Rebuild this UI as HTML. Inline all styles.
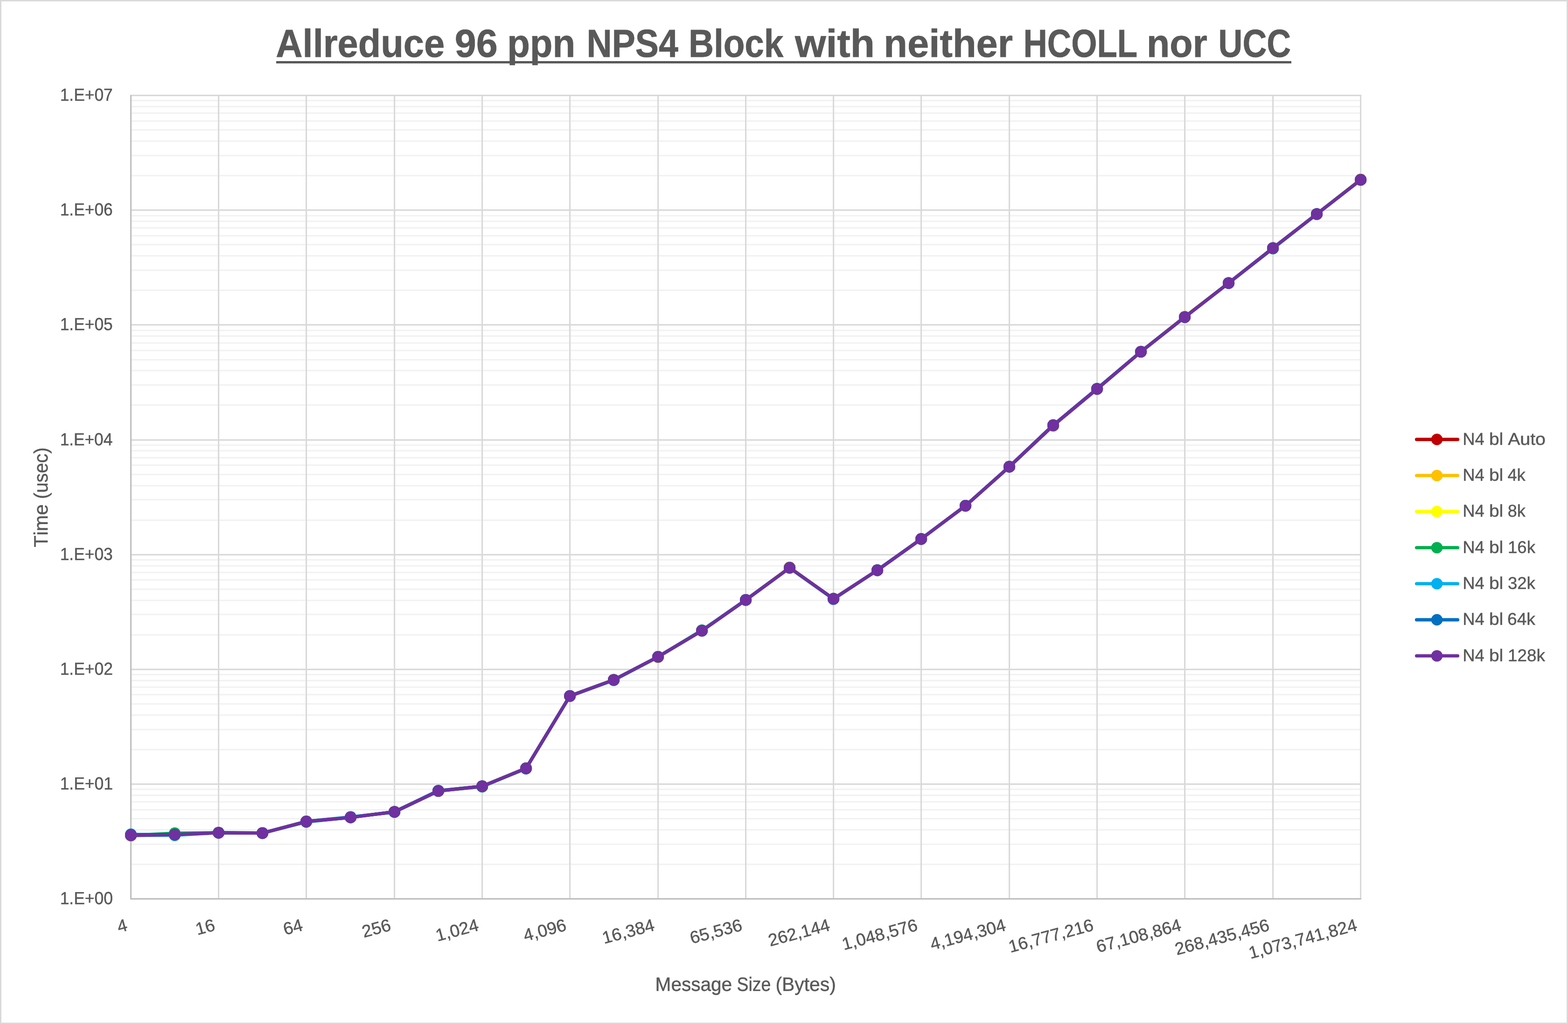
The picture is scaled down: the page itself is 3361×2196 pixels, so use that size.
<!DOCTYPE html>
<html lang="en"><head><meta charset="utf-8">
<title>Allreduce 96 ppn NPS4 Block with neither HCOLL nor UCC</title>
<style>
html,body{margin:0;padding:0;background:#fff;width:3361px;height:2196px;overflow:hidden}
svg{display:block}
text{font-family:"Liberation Sans", sans-serif;fill:#595959;font-kerning:none;text-rendering:geometricPrecision;stroke:#595959;stroke-width:0.5px}
.t{font-weight:700;stroke-width:0.8px}
</style></head><body>
<svg width="3361" height="2196" viewBox="0 0 3361 2196" role="img" aria-label="Allreduce 96 ppn NPS4 Block with neither HCOLL nor UCC">
<rect x="0" y="0" width="3361" height="2196" fill="#fff"/>
<rect x="1.5" y="1.5" width="3358" height="2193" fill="none" stroke="#d9d9d9" stroke-width="3"/>
<g fill="none" stroke-width="3.12" shape-rendering="geometricPrecision">
<path stroke="#f2f2f2" d="M280.55 1853.62H2916.55M280.55 1810.62H2916.55M280.55 1779.62H2916.55M280.55 1755.62H2916.55M280.55 1736.62H2916.55M280.55 1719.62H2916.55M280.55 1705.62H2916.55M280.55 1692.62H2916.55M280.55 1607.62H2916.55M280.55 1564.62H2916.55M280.55 1533.62H2916.55M280.55 1509.62H2916.55M280.55 1489.62H2916.55M280.55 1473.62H2916.55M280.55 1459.62H2916.55M280.55 1446.62H2916.55M280.55 1361.62H2916.55M280.55 1317.62H2916.55M280.55 1287.62H2916.55M280.55 1263.62H2916.55M280.55 1243.62H2916.55M280.55 1227.62H2916.55M280.55 1213.62H2916.55M280.55 1200.62H2916.55M280.55 1115.62H2916.55M280.55 1071.62H2916.55M280.55 1041.62H2916.55M280.55 1017.62H2916.55M280.55 997.62H2916.55M280.55 981.62H2916.55M280.55 966.62H2916.55M280.55 954.62H2916.55M280.55 868.62H2916.55M280.55 825.62H2916.55M280.55 794.62H2916.55M280.55 771.62H2916.55M280.55 751.62H2916.55M280.55 735.62H2916.55M280.55 720.62H2916.55M280.55 708.62H2916.55M280.55 622.62H2916.55M280.55 579.62H2916.55M280.55 548.62H2916.55M280.55 524.62H2916.55M280.55 505.62H2916.55M280.55 488.62H2916.55M280.55 474.62H2916.55M280.55 462.62H2916.55M280.55 376.62H2916.55M280.55 333.62H2916.55M280.55 302.62H2916.55M280.55 278.62H2916.55M280.55 259.62H2916.55M280.55 242.62H2916.55M280.55 228.62H2916.55M280.55 215.62H2916.55"/>
<path stroke="#d9d9d9" d="M280.55 1681.62H2916.55M280.55 1435.62H2916.55M280.55 1189.62H2916.55M280.55 943.62H2916.55M280.55 696.62H2916.55M280.55 450.62H2916.55M280.55 204.62H2916.55M468.55 203.06V1927.62M656.55 203.06V1927.62M845.55 203.06V1927.62M1033.55 203.06V1927.62M1221.55 203.06V1927.62M1410.55 203.06V1927.62M1598.55 203.06V1927.62M1786.55 203.06V1927.62M1974.55 203.06V1927.62M2163.55 203.06V1927.62M2351.55 203.06V1927.62M2539.55 203.06V1927.62M2728.55 203.06V1927.62M2916.55 203.06V1927.62"/>
<path stroke="#bfbfbf" d="M280.55 203.66V1929.18M278.99 1927.62H2917.81"/>
</g>
<g fill="#c00000" stroke="#c00000">
<polyline fill="none" stroke-width="7" stroke-linejoin="round" stroke-linecap="round" points="280.55,1791.4 374.55,1789.8 468.55,1785.8 562.55,1786.6 656.55,1761.6 751.55,1752.9 845.55,1741 939.55,1696.3 1033.55,1686.2 1127.55,1647.6 1221.55,1492.6 1315.55,1458 1410.55,1408.6 1504.55,1352.6 1598.55,1286.7 1692.55,1217.7 1786.55,1284.2 1880.55,1222.9 1974.55,1155.8 2069.55,1084.6 2163.55,1000.9 2257.55,912.9 2351.55,834.2 2445.55,754.3 2539.55,680 2633.55,607 2728.55,532 2822.55,459 2916.55,385.7"/>
<g stroke="none"><circle cx="280.55" cy="1791.4" r="12.6"/><circle cx="374.55" cy="1789.8" r="12.6"/><circle cx="468.55" cy="1785.8" r="12.6"/><circle cx="562.55" cy="1786.6" r="12.6"/><circle cx="656.55" cy="1761.6" r="12.6"/><circle cx="751.55" cy="1752.9" r="12.6"/><circle cx="845.55" cy="1741" r="12.6"/><circle cx="939.55" cy="1696.3" r="12.6"/><circle cx="1033.55" cy="1686.2" r="12.6"/><circle cx="1127.55" cy="1647.6" r="12.6"/><circle cx="1221.55" cy="1492.6" r="12.6"/><circle cx="1315.55" cy="1458" r="12.6"/><circle cx="1410.55" cy="1408.6" r="12.6"/><circle cx="1504.55" cy="1352.6" r="12.6"/><circle cx="1598.55" cy="1286.7" r="12.6"/><circle cx="1692.55" cy="1217.7" r="12.6"/><circle cx="1786.55" cy="1284.2" r="12.6"/><circle cx="1880.55" cy="1222.9" r="12.6"/><circle cx="1974.55" cy="1155.8" r="12.6"/><circle cx="2069.55" cy="1084.6" r="12.6"/><circle cx="2163.55" cy="1000.9" r="12.6"/><circle cx="2257.55" cy="912.9" r="12.6"/><circle cx="2351.55" cy="834.2" r="12.6"/><circle cx="2445.55" cy="754.3" r="12.6"/><circle cx="2539.55" cy="680" r="12.6"/><circle cx="2633.55" cy="607" r="12.6"/><circle cx="2728.55" cy="532" r="12.6"/><circle cx="2822.55" cy="459" r="12.6"/><circle cx="2916.55" cy="385.7" r="12.6"/></g>
</g>
<g fill="#ffc000" stroke="#ffc000">
<polyline fill="none" stroke-width="7" stroke-linejoin="round" stroke-linecap="round" points="280.55,1792.4 374.55,1789.8 468.55,1785.8 562.55,1786.6 656.55,1761.6 751.55,1752.9 845.55,1741 939.55,1696.3 1033.55,1686.2 1127.55,1647.6 1221.55,1492.6 1315.55,1458 1410.55,1408.6 1504.55,1352.6 1598.55,1286.7 1692.55,1216.7 1786.55,1284.2 1880.55,1222.9 1974.55,1155.8 2069.55,1084.6 2163.55,1000.9 2257.55,911.9 2351.55,834.2 2445.55,754.3 2539.55,679 2633.55,607 2728.55,532 2822.55,459 2916.55,384.7"/>
<g stroke="none"><circle cx="280.55" cy="1792.4" r="12.6"/><circle cx="374.55" cy="1789.8" r="12.6"/><circle cx="468.55" cy="1785.8" r="12.6"/><circle cx="562.55" cy="1786.6" r="12.6"/><circle cx="656.55" cy="1761.6" r="12.6"/><circle cx="751.55" cy="1752.9" r="12.6"/><circle cx="845.55" cy="1741" r="12.6"/><circle cx="939.55" cy="1696.3" r="12.6"/><circle cx="1033.55" cy="1686.2" r="12.6"/><circle cx="1127.55" cy="1647.6" r="12.6"/><circle cx="1221.55" cy="1492.6" r="12.6"/><circle cx="1315.55" cy="1458" r="12.6"/><circle cx="1410.55" cy="1408.6" r="12.6"/><circle cx="1504.55" cy="1352.6" r="12.6"/><circle cx="1598.55" cy="1286.7" r="12.6"/><circle cx="1692.55" cy="1216.7" r="12.6"/><circle cx="1786.55" cy="1284.2" r="12.6"/><circle cx="1880.55" cy="1222.9" r="12.6"/><circle cx="1974.55" cy="1155.8" r="12.6"/><circle cx="2069.55" cy="1084.6" r="12.6"/><circle cx="2163.55" cy="1000.9" r="12.6"/><circle cx="2257.55" cy="911.9" r="12.6"/><circle cx="2351.55" cy="834.2" r="12.6"/><circle cx="2445.55" cy="754.3" r="12.6"/><circle cx="2539.55" cy="679" r="12.6"/><circle cx="2633.55" cy="607" r="12.6"/><circle cx="2728.55" cy="532" r="12.6"/><circle cx="2822.55" cy="459" r="12.6"/><circle cx="2916.55" cy="384.7" r="12.6"/></g>
</g>
<g fill="#ffff00" stroke="#ffff00">
<polyline fill="none" stroke-width="7" stroke-linejoin="round" stroke-linecap="round" points="280.55,1791.4 374.55,1789.8 468.55,1785.8 562.55,1786.6 656.55,1761.6 751.55,1752.9 845.55,1741 939.55,1696.3 1033.55,1686.2 1127.55,1647.6 1221.55,1492.6 1315.55,1458 1410.55,1409.6 1504.55,1352.6 1598.55,1286.7 1692.55,1217.7 1786.55,1284.2 1880.55,1222.9 1974.55,1155.8 2069.55,1084.6 2163.55,1000.9 2257.55,911.9 2351.55,834.2 2445.55,754.3 2539.55,680 2633.55,607 2728.55,532 2822.55,459 2916.55,385.7"/>
<g stroke="none"><circle cx="280.55" cy="1791.4" r="12.6"/><circle cx="374.55" cy="1789.8" r="12.6"/><circle cx="468.55" cy="1785.8" r="12.6"/><circle cx="562.55" cy="1786.6" r="12.6"/><circle cx="656.55" cy="1761.6" r="12.6"/><circle cx="751.55" cy="1752.9" r="12.6"/><circle cx="845.55" cy="1741" r="12.6"/><circle cx="939.55" cy="1696.3" r="12.6"/><circle cx="1033.55" cy="1686.2" r="12.6"/><circle cx="1127.55" cy="1647.6" r="12.6"/><circle cx="1221.55" cy="1492.6" r="12.6"/><circle cx="1315.55" cy="1458" r="12.6"/><circle cx="1410.55" cy="1409.6" r="12.6"/><circle cx="1504.55" cy="1352.6" r="12.6"/><circle cx="1598.55" cy="1286.7" r="12.6"/><circle cx="1692.55" cy="1217.7" r="12.6"/><circle cx="1786.55" cy="1284.2" r="12.6"/><circle cx="1880.55" cy="1222.9" r="12.6"/><circle cx="1974.55" cy="1155.8" r="12.6"/><circle cx="2069.55" cy="1084.6" r="12.6"/><circle cx="2163.55" cy="1000.9" r="12.6"/><circle cx="2257.55" cy="911.9" r="12.6"/><circle cx="2351.55" cy="834.2" r="12.6"/><circle cx="2445.55" cy="754.3" r="12.6"/><circle cx="2539.55" cy="680" r="12.6"/><circle cx="2633.55" cy="607" r="12.6"/><circle cx="2728.55" cy="532" r="12.6"/><circle cx="2822.55" cy="459" r="12.6"/><circle cx="2916.55" cy="385.7" r="12.6"/></g>
</g>
<g fill="#00b050" stroke="#00b050">
<polyline fill="none" stroke-width="7" stroke-linejoin="round" stroke-linecap="round" points="280.55,1791.4 374.55,1786.8 468.55,1785.8 562.55,1786.6 656.55,1761.6 751.55,1752.9 845.55,1741 939.55,1696.3 1033.55,1687 1127.55,1647.6 1221.55,1492.6 1315.55,1458 1410.55,1408.6 1504.55,1351.6 1598.55,1286.7 1692.55,1217.7 1786.55,1284.2 1880.55,1222.9 1974.55,1155.8 2069.55,1084.6 2163.55,1000.9 2257.55,911.9 2351.55,834.2 2445.55,754.3 2539.55,680 2633.55,607 2728.55,533 2822.55,459 2916.55,385.7"/>
<g stroke="none"><circle cx="280.55" cy="1791.4" r="12.6"/><circle cx="374.55" cy="1786.8" r="12.6"/><circle cx="468.55" cy="1785.8" r="12.6"/><circle cx="562.55" cy="1786.6" r="12.6"/><circle cx="656.55" cy="1761.6" r="12.6"/><circle cx="751.55" cy="1752.9" r="12.6"/><circle cx="845.55" cy="1741" r="12.6"/><circle cx="939.55" cy="1696.3" r="12.6"/><circle cx="1033.55" cy="1687" r="12.6"/><circle cx="1127.55" cy="1647.6" r="12.6"/><circle cx="1221.55" cy="1492.6" r="12.6"/><circle cx="1315.55" cy="1458" r="12.6"/><circle cx="1410.55" cy="1408.6" r="12.6"/><circle cx="1504.55" cy="1351.6" r="12.6"/><circle cx="1598.55" cy="1286.7" r="12.6"/><circle cx="1692.55" cy="1217.7" r="12.6"/><circle cx="1786.55" cy="1284.2" r="12.6"/><circle cx="1880.55" cy="1222.9" r="12.6"/><circle cx="1974.55" cy="1155.8" r="12.6"/><circle cx="2069.55" cy="1084.6" r="12.6"/><circle cx="2163.55" cy="1000.9" r="12.6"/><circle cx="2257.55" cy="911.9" r="12.6"/><circle cx="2351.55" cy="834.2" r="12.6"/><circle cx="2445.55" cy="754.3" r="12.6"/><circle cx="2539.55" cy="680" r="12.6"/><circle cx="2633.55" cy="607" r="12.6"/><circle cx="2728.55" cy="533" r="12.6"/><circle cx="2822.55" cy="459" r="12.6"/><circle cx="2916.55" cy="385.7" r="12.6"/></g>
</g>
<g fill="#00b0f0" stroke="#00b0f0">
<polyline fill="none" stroke-width="7" stroke-linejoin="round" stroke-linecap="round" points="280.55,1791.4 374.55,1791.3 468.55,1785.8 562.55,1786.6 656.55,1761.6 751.55,1751.9 845.55,1741.7 939.55,1696.3 1033.55,1686.2 1127.55,1647.6 1221.55,1492.6 1315.55,1458.8 1410.55,1408.6 1504.55,1352.6 1598.55,1286.7 1692.55,1217.7 1786.55,1284.9 1880.55,1222.9 1974.55,1155.8 2069.55,1084.6 2163.55,1000.9 2257.55,911.9 2351.55,834.2 2445.55,754.3 2539.55,680 2633.55,607 2728.55,532 2822.55,459 2916.55,385.7"/>
<g stroke="none"><circle cx="280.55" cy="1791.4" r="12.6"/><circle cx="374.55" cy="1791.3" r="12.6"/><circle cx="468.55" cy="1785.8" r="12.6"/><circle cx="562.55" cy="1786.6" r="12.6"/><circle cx="656.55" cy="1761.6" r="12.6"/><circle cx="751.55" cy="1751.9" r="12.6"/><circle cx="845.55" cy="1741.7" r="12.6"/><circle cx="939.55" cy="1696.3" r="12.6"/><circle cx="1033.55" cy="1686.2" r="12.6"/><circle cx="1127.55" cy="1647.6" r="12.6"/><circle cx="1221.55" cy="1492.6" r="12.6"/><circle cx="1315.55" cy="1458.8" r="12.6"/><circle cx="1410.55" cy="1408.6" r="12.6"/><circle cx="1504.55" cy="1352.6" r="12.6"/><circle cx="1598.55" cy="1286.7" r="12.6"/><circle cx="1692.55" cy="1217.7" r="12.6"/><circle cx="1786.55" cy="1284.9" r="12.6"/><circle cx="1880.55" cy="1222.9" r="12.6"/><circle cx="1974.55" cy="1155.8" r="12.6"/><circle cx="2069.55" cy="1084.6" r="12.6"/><circle cx="2163.55" cy="1000.9" r="12.6"/><circle cx="2257.55" cy="911.9" r="12.6"/><circle cx="2351.55" cy="834.2" r="12.6"/><circle cx="2445.55" cy="754.3" r="12.6"/><circle cx="2539.55" cy="680" r="12.6"/><circle cx="2633.55" cy="607" r="12.6"/><circle cx="2728.55" cy="532" r="12.6"/><circle cx="2822.55" cy="459" r="12.6"/><circle cx="2916.55" cy="385.7" r="12.6"/></g>
</g>
<g fill="#0070c0" stroke="#0070c0">
<polyline fill="none" stroke-width="7" stroke-linejoin="round" stroke-linecap="round" points="280.55,1789.4 374.55,1789.8 468.55,1785.8 562.55,1786.6 656.55,1762.6 751.55,1752.9 845.55,1741 939.55,1695.5 1033.55,1686.2 1127.55,1648.3 1221.55,1492.6 1315.55,1458 1410.55,1408.6 1504.55,1352.6 1598.55,1286.7 1692.55,1217.7 1786.55,1284.2 1880.55,1222.9 1974.55,1155.8 2069.55,1084.6 2163.55,1000.9 2257.55,911.9 2351.55,833.5 2445.55,754.3 2539.55,680 2633.55,607 2728.55,532 2822.55,459 2916.55,385.7"/>
<g stroke="none"><circle cx="280.55" cy="1789.4" r="12.6"/><circle cx="374.55" cy="1789.8" r="12.6"/><circle cx="468.55" cy="1785.8" r="12.6"/><circle cx="562.55" cy="1786.6" r="12.6"/><circle cx="656.55" cy="1762.6" r="12.6"/><circle cx="751.55" cy="1752.9" r="12.6"/><circle cx="845.55" cy="1741" r="12.6"/><circle cx="939.55" cy="1695.5" r="12.6"/><circle cx="1033.55" cy="1686.2" r="12.6"/><circle cx="1127.55" cy="1648.3" r="12.6"/><circle cx="1221.55" cy="1492.6" r="12.6"/><circle cx="1315.55" cy="1458" r="12.6"/><circle cx="1410.55" cy="1408.6" r="12.6"/><circle cx="1504.55" cy="1352.6" r="12.6"/><circle cx="1598.55" cy="1286.7" r="12.6"/><circle cx="1692.55" cy="1217.7" r="12.6"/><circle cx="1786.55" cy="1284.2" r="12.6"/><circle cx="1880.55" cy="1222.9" r="12.6"/><circle cx="1974.55" cy="1155.8" r="12.6"/><circle cx="2069.55" cy="1084.6" r="12.6"/><circle cx="2163.55" cy="1000.9" r="12.6"/><circle cx="2257.55" cy="911.9" r="12.6"/><circle cx="2351.55" cy="833.5" r="12.6"/><circle cx="2445.55" cy="754.3" r="12.6"/><circle cx="2539.55" cy="680" r="12.6"/><circle cx="2633.55" cy="607" r="12.6"/><circle cx="2728.55" cy="532" r="12.6"/><circle cx="2822.55" cy="459" r="12.6"/><circle cx="2916.55" cy="385.7" r="12.6"/></g>
</g>
<g fill="#7030a0" stroke="#7030a0">
<polyline fill="none" stroke-width="7" stroke-linejoin="round" stroke-linecap="round" points="280.55,1791.4 374.55,1789.8 468.55,1785.8 562.55,1786.6 656.55,1761.6 751.55,1752.9 845.55,1741 939.55,1696.3 1033.55,1686.2 1127.55,1647.6 1221.55,1492.6 1315.55,1458 1410.55,1408.6 1504.55,1352.6 1598.55,1286.7 1692.55,1217.7 1786.55,1284.2 1880.55,1222.9 1974.55,1155.8 2069.55,1084.6 2163.55,1000.9 2257.55,911.9 2351.55,834.2 2445.55,754.3 2539.55,680 2633.55,607 2728.55,532 2822.55,459 2916.55,385.7"/>
<g stroke="none"><circle cx="280.55" cy="1791.4" r="12.6"/><circle cx="374.55" cy="1789.8" r="12.6"/><circle cx="468.55" cy="1785.8" r="12.6"/><circle cx="562.55" cy="1786.6" r="12.6"/><circle cx="656.55" cy="1761.6" r="12.6"/><circle cx="751.55" cy="1752.9" r="12.6"/><circle cx="845.55" cy="1741" r="12.6"/><circle cx="939.55" cy="1696.3" r="12.6"/><circle cx="1033.55" cy="1686.2" r="12.6"/><circle cx="1127.55" cy="1647.6" r="12.6"/><circle cx="1221.55" cy="1492.6" r="12.6"/><circle cx="1315.55" cy="1458" r="12.6"/><circle cx="1410.55" cy="1408.6" r="12.6"/><circle cx="1504.55" cy="1352.6" r="12.6"/><circle cx="1598.55" cy="1286.7" r="12.6"/><circle cx="1692.55" cy="1217.7" r="12.6"/><circle cx="1786.55" cy="1284.2" r="12.6"/><circle cx="1880.55" cy="1222.9" r="12.6"/><circle cx="1974.55" cy="1155.8" r="12.6"/><circle cx="2069.55" cy="1084.6" r="12.6"/><circle cx="2163.55" cy="1000.9" r="12.6"/><circle cx="2257.55" cy="911.9" r="12.6"/><circle cx="2351.55" cy="834.2" r="12.6"/><circle cx="2445.55" cy="754.3" r="12.6"/><circle cx="2539.55" cy="680" r="12.6"/><circle cx="2633.55" cy="607" r="12.6"/><circle cx="2728.55" cy="532" r="12.6"/><circle cx="2822.55" cy="459" r="12.6"/><circle cx="2916.55" cy="385.7" r="12.6"/></g>
</g>
<text class="t" font-size="84" y="122"><tspan x="591.22" textLength="361.89" lengthAdjust="spacingAndGlyphs">Allreduce</tspan> <tspan x="974.73" textLength="92.06" lengthAdjust="spacingAndGlyphs">96</tspan> <tspan x="1087.15" textLength="145.99" lengthAdjust="spacingAndGlyphs">ppn</tspan> <tspan x="1257.48" textLength="196.23" lengthAdjust="spacingAndGlyphs">NPS4</tspan> <tspan x="1476.11" textLength="203.22" lengthAdjust="spacingAndGlyphs">Block</tspan> <tspan x="1703.95" textLength="171.16" lengthAdjust="spacingAndGlyphs">with</tspan> <tspan x="1894.33" textLength="276.73" lengthAdjust="spacingAndGlyphs">neither</tspan> <tspan x="2193.55" textLength="244.74" lengthAdjust="spacingAndGlyphs">HCOLL</tspan> <tspan x="2457.99" textLength="129.83" lengthAdjust="spacingAndGlyphs">nor</tspan> <tspan x="2611.59" textLength="155.47" lengthAdjust="spacingAndGlyphs">UCC</tspan></text>
<rect x="592" y="131" width="2176" height="5" fill="#595959"/>
<g font-size="37.5">
<text x="128.65" y="1939" textLength="113.28" lengthAdjust="spacingAndGlyphs">1.E+00</text>
<text x="128.65" y="1693" textLength="113.33" lengthAdjust="spacingAndGlyphs">1.E+01</text>
<text x="128.65" y="1447" textLength="113.38" lengthAdjust="spacingAndGlyphs">1.E+02</text>
<text x="128.65" y="1201" textLength="113.15" lengthAdjust="spacingAndGlyphs">1.E+03</text>
<text x="128.67" y="955" textLength="112.61" lengthAdjust="spacingAndGlyphs">1.E+04</text>
<text x="128.66" y="708" textLength="113.08" lengthAdjust="spacingAndGlyphs">1.E+05</text>
<text x="128.65" y="462" textLength="113.15" lengthAdjust="spacingAndGlyphs">1.E+06</text>
<text x="128.66" y="216" textLength="113.07" lengthAdjust="spacingAndGlyphs">1.E+07</text>
</g>
<g font-size="37" text-anchor="end">
<text transform="translate(275.05 1994.8) rotate(-15)" textLength="20.79" lengthAdjust="spacingAndGlyphs">4</text>
<text transform="translate(463.05 1994.8) rotate(-15)" textLength="41.58" lengthAdjust="spacingAndGlyphs">16</text>
<text transform="translate(651.05 1994.8) rotate(-15)" textLength="41.58" lengthAdjust="spacingAndGlyphs">64</text>
<text transform="translate(840.05 1994.8) rotate(-15)" textLength="62.37" lengthAdjust="spacingAndGlyphs">256</text>
<text transform="translate(1028.05 1994.8) rotate(-15)" textLength="93.39" lengthAdjust="spacingAndGlyphs">1,024</text>
<text transform="translate(1216.05 1994.8) rotate(-15)" textLength="93.39" lengthAdjust="spacingAndGlyphs">4,096</text>
<text transform="translate(1405.05 1994.8) rotate(-15)" textLength="114.18" lengthAdjust="spacingAndGlyphs">16,384</text>
<text transform="translate(1593.05 1994.8) rotate(-15)" textLength="114.18" lengthAdjust="spacingAndGlyphs">65,536</text>
<text transform="translate(1781.05 1994.8) rotate(-15)" textLength="134.97" lengthAdjust="spacingAndGlyphs">262,144</text>
<text transform="translate(1969.05 1994.8) rotate(-15)" textLength="165.99" lengthAdjust="spacingAndGlyphs">1,048,576</text>
<text transform="translate(2158.05 1994.8) rotate(-15)" textLength="165.99" lengthAdjust="spacingAndGlyphs">4,194,304</text>
<text transform="translate(2346.05 1994.8) rotate(-15)" textLength="186.78" lengthAdjust="spacingAndGlyphs">16,777,216</text>
<text transform="translate(2534.05 1994.8) rotate(-15)" textLength="186.78" lengthAdjust="spacingAndGlyphs">67,108,864</text>
<text transform="translate(2723.05 1994.8) rotate(-15)" textLength="207.57" lengthAdjust="spacingAndGlyphs">268,435,456</text>
<text transform="translate(2911.05 1994.8) rotate(-15)" textLength="238.59" lengthAdjust="spacingAndGlyphs">1,073,741,824</text>
</g>
<text font-size="41.6" y="2125"><tspan x="1404.62" textLength="164.53" lengthAdjust="spacingAndGlyphs">Message</tspan> <tspan x="1579.55" textLength="72.66" lengthAdjust="spacingAndGlyphs">Size</tspan> <tspan x="1662.42" textLength="129.37" lengthAdjust="spacingAndGlyphs">(Bytes)</tspan></text>
<text font-size="41.6" transform="translate(102.1 1173.1) rotate(-90)" y="0"><tspan x="-0.68" textLength="92.28" lengthAdjust="spacingAndGlyphs">Time</tspan> <tspan x="103.08" textLength="110.53" lengthAdjust="spacingAndGlyphs">(usec)</tspan></text>
<g fill="#c00000" stroke="#c00000"><path fill="none" stroke-width="7.1" stroke-linecap="round" d="M3036.45 942.4H3124.55"/><circle stroke="none" cx="3080" cy="942.4" r="12.3"/></g>
<text font-size="36.6" y="954"><tspan x="3135.27" textLength="46.44" lengthAdjust="spacingAndGlyphs">N4</tspan> <tspan x="3191.94" textLength="30.32" lengthAdjust="spacingAndGlyphs">bl</tspan> <tspan x="3232.17" textLength="80.72" lengthAdjust="spacingAndGlyphs">Auto</tspan></text>
<g fill="#ffc000" stroke="#ffc000"><path fill="none" stroke-width="7.1" stroke-linecap="round" d="M3036.45 1019.75H3124.55"/><circle stroke="none" cx="3080" cy="1019.75" r="12.3"/></g>
<text font-size="36.6" y="1031"><tspan x="3135.27" textLength="46.44" lengthAdjust="spacingAndGlyphs">N4</tspan> <tspan x="3191.94" textLength="30.32" lengthAdjust="spacingAndGlyphs">bl</tspan> <tspan x="3231.42" textLength="38.38" lengthAdjust="spacingAndGlyphs">4k</tspan></text>
<g fill="#ffff00" stroke="#ffff00"><path fill="none" stroke-width="7.1" stroke-linecap="round" d="M3036.45 1097.1H3124.55"/><circle stroke="none" cx="3080" cy="1097.1" r="12.3"/></g>
<text font-size="36.6" y="1108"><tspan x="3135.27" textLength="46.44" lengthAdjust="spacingAndGlyphs">N4</tspan> <tspan x="3191.94" textLength="30.32" lengthAdjust="spacingAndGlyphs">bl</tspan> <tspan x="3231.79" textLength="38.01" lengthAdjust="spacingAndGlyphs">8k</tspan></text>
<g fill="#00b050" stroke="#00b050"><path fill="none" stroke-width="7.1" stroke-linecap="round" d="M3036.45 1174.45H3124.55"/><circle stroke="none" cx="3080" cy="1174.45" r="12.3"/></g>
<text font-size="36.6" y="1186"><tspan x="3135.27" textLength="46.44" lengthAdjust="spacingAndGlyphs">N4</tspan> <tspan x="3191.94" textLength="30.32" lengthAdjust="spacingAndGlyphs">bl</tspan> <tspan x="3232.07" textLength="58.83" lengthAdjust="spacingAndGlyphs">16k</tspan></text>
<g fill="#00b0f0" stroke="#00b0f0"><path fill="none" stroke-width="7.1" stroke-linecap="round" d="M3036.45 1251.8H3124.55"/><circle stroke="none" cx="3080" cy="1251.8" r="12.3"/></g>
<text font-size="36.6" y="1263"><tspan x="3135.27" textLength="46.44" lengthAdjust="spacingAndGlyphs">N4</tspan> <tspan x="3191.94" textLength="30.32" lengthAdjust="spacingAndGlyphs">bl</tspan> <tspan x="3231.96" textLength="58.94" lengthAdjust="spacingAndGlyphs">32k</tspan></text>
<g fill="#0070c0" stroke="#0070c0"><path fill="none" stroke-width="7.1" stroke-linecap="round" d="M3036.45 1329.15H3124.55"/><circle stroke="none" cx="3080" cy="1329.15" r="12.3"/></g>
<text font-size="36.6" y="1340"><tspan x="3135.27" textLength="46.44" lengthAdjust="spacingAndGlyphs">N4</tspan> <tspan x="3191.94" textLength="30.32" lengthAdjust="spacingAndGlyphs">bl</tspan> <tspan x="3231.07" textLength="59.83" lengthAdjust="spacingAndGlyphs">64k</tspan></text>
<g fill="#7030a0" stroke="#7030a0"><path fill="none" stroke-width="7.1" stroke-linecap="round" d="M3036.45 1406.5H3124.55"/><circle stroke="none" cx="3080" cy="1406.5" r="12.3"/></g>
<text font-size="36.6" y="1418"><tspan x="3135.27" textLength="46.44" lengthAdjust="spacingAndGlyphs">N4</tspan> <tspan x="3191.94" textLength="30.32" lengthAdjust="spacingAndGlyphs">bl</tspan> <tspan x="3232.05" textLength="79.75" lengthAdjust="spacingAndGlyphs">128k</tspan></text>
</svg>
</body></html>
